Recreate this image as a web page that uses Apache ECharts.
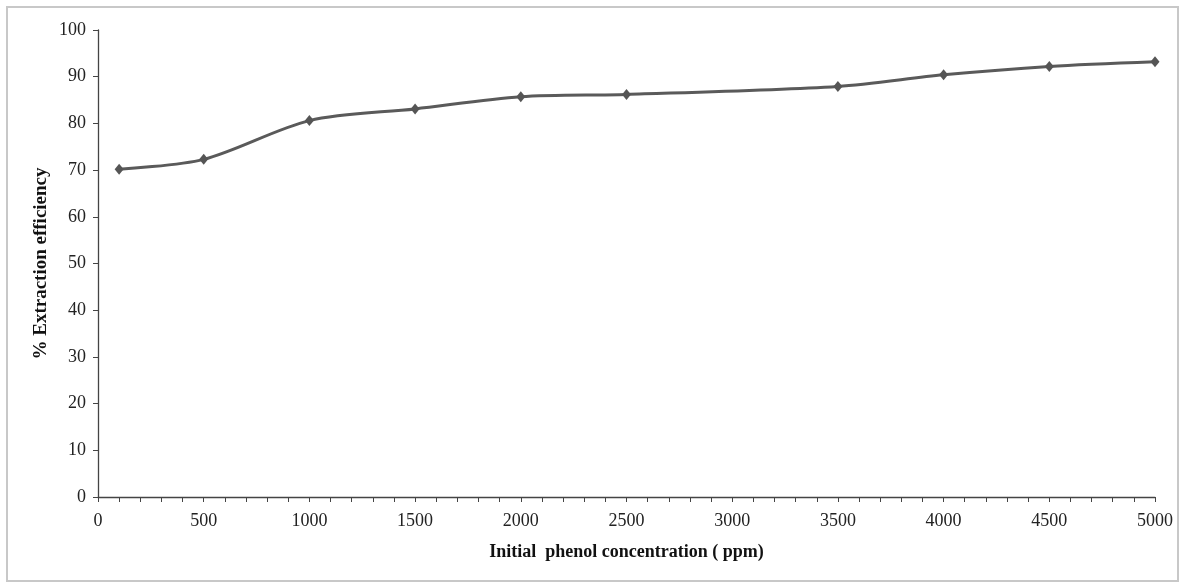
<!DOCTYPE html>
<html>
<head>
<meta charset="utf-8">
<script src="https://cdn.jsdelivr.net/npm/echarts@6/dist/echarts.min.js"></script>
<style>
  html, body { margin: 0; padding: 0; background: #fff; }
  #chart { width: 1185px; height: 588px; }
</style>
</head>
<body>
<div id="chart"></div>
<script>
// initial phenol concentration (ppm) and % extraction efficiency
const concentration = [100, 500, 1000, 1500, 2000, 2500, 3500, 4000, 4500, 5000];
const efficiency = [70.2, 72.3, 80.6, 83.1, 85.7, 86.2, 87.9, 90.4, 92.2, 93.2];

const chart = echarts.init(document.getElementById('chart'));

const font = 'Liberation Serif';
const axisColor = '#444';

const options = {
  animation: false,
  grid: { left: 98, right: 30, top: 30, bottom: 91 },
  graphic: [{
    type: 'rect',
    shape: { x: 7, y: 7, width: 1171, height: 574 },
    style: { fill: 'none', stroke: '#c8c8c8', lineWidth: 2 },
    silent: true
  }],
  xAxis: {
    type: 'value',
    min: 0,
    max: 5000,
    interval: 500,
    name: 'Initial  phenol concentration ( ppm)',
    nameLocation: 'middle',
    nameGap: 46,
    nameMoveOverlap: false,
    nameTextStyle: { fontFamily: font, fontSize: 18, fontWeight: 'bold', color: '#111' },
    axisLine: { lineStyle: { color: axisColor, width: 1.3 } },
    axisTick: { show: true, length: 5, lineStyle: { color: axisColor } },
    minorTick: { show: true, splitNumber: 5, length: 5, lineStyle: { color: axisColor } },
    axisLabel: { fontFamily: font, fontSize: 18, color: '#222', margin: 15, formatter: v => String(v) },
    splitLine: { show: false }
  },
  yAxis: {
    type: 'value',
    min: 0,
    max: 100,
    interval: 10,
    name: '% Extraction efficiency',
    nameLocation: 'middle',
    nameGap: 47,
    nameMoveOverlap: false,
    nameTextStyle: { fontFamily: font, fontSize: 19, fontWeight: 'bold', color: '#111' },
    axisLine: { show: true, lineStyle: { color: axisColor, width: 1.3 } },
    axisTick: { show: true, length: 5, lineStyle: { color: axisColor } },
    axisLabel: { fontFamily: font, fontSize: 18, color: '#222', margin: 12 },
    splitLine: { show: false }
  },
  series: [{
    type: 'line',
    data: concentration.map((c, i) => [c, efficiency[i]]),
    smooth: 0.3,
    symbol: 'diamond',
    symbolSize: [9, 11],
    lineStyle: { color: '#5a5a5a', width: 3 },
    itemStyle: { color: '#555' }
  }]
};

chart.setOption(options);
</script>
</body>
</html>
